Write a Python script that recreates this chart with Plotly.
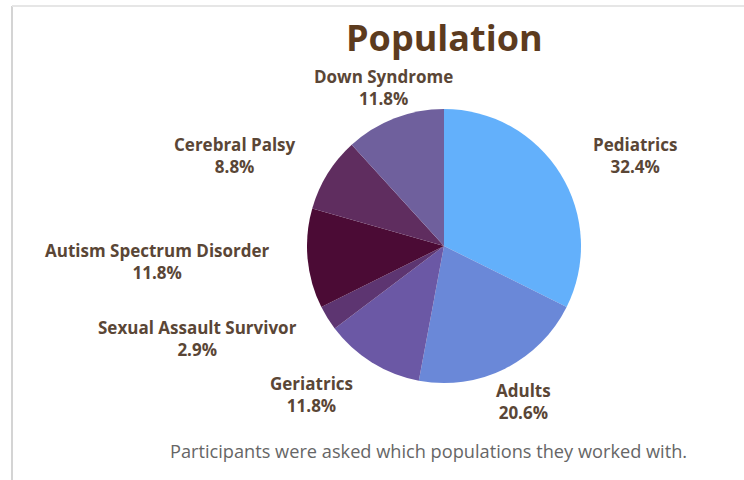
import plotly.graph_objects as go

# Data
categories = ["Pediatrics", "Adults", "Geriatrics", "Sexual Assault Survivor",
              "Autism Spectrum Disorder", "Cerebral Palsy", "Down Syndrome"]
counts = [11, 7, 4, 1, 4, 3, 4]
colors = ["#63b0fb", "#6a88d8", "#6b58a5", "#5d3571", "#4b0b35", "#5f2d5f", "#6f609d"]

title_text = "Population"
caption_text = "Participants were asked which populations they worked with."

# Layout (pixel positions of label block centres)
W, H = 744, 480
label_px = [(635, 155), (523, 401), (311, 394), (197, 338), (157, 261), (235, 155), (383, 87)]

total = sum(counts)
fig = go.Figure(go.Pie(
    labels=categories, values=counts, sort=False, direction="clockwise", rotation=0,
    marker=dict(colors=colors, line=dict(width=0)),
    textinfo="none", hoverinfo="label+percent",
    domain=dict(x=[307 / W, 581 / W], y=[1 - 383 / H, 1 - 109 / H]),
    showlegend=False,
))

annotations = []
for cat, c, (px, py) in zip(categories, counts, label_px):
    annotations.append(dict(
        x=px / W, y=1 - py / H, xref="paper", yref="paper",
        text=f"<b>{cat}</b><br><b>{100 * c / total:.1f}%</b>", showarrow=False,
        font=dict(family="Open Sans", size=17, color="#5a4636"),
        xanchor="center", yanchor="middle", align="center",
    ))
annotations.append(dict(
    x=444 / W, y=1 - 38 / H, xref="paper", yref="paper", text=f"<b>{title_text}</b>",
    showarrow=False, font=dict(family="Open Sans", size=36, color="#5c3b1e"),
    xanchor="center", yanchor="middle"))
annotations.append(dict(
    x=428 / W, y=1 - 451 / H, xref="paper", yref="paper", text=caption_text,
    showarrow=False, font=dict(family="Open Sans", size=18.2, color="#666666"),
    xanchor="center", yanchor="middle"))

fig.update_layout(
    width=W, height=H, margin=dict(l=0, r=0, t=0, b=0),
    paper_bgcolor="white", plot_bgcolor="white",
    annotations=annotations,
    shapes=[
        dict(type="line", xref="paper", yref="paper", x0=12 / W, x1=12 / W, y0=0, y1=1 - 6 / H,
             line=dict(color="#d4d4d4", width=2)),
        dict(type="line", xref="paper", yref="paper", x0=12 / W, x1=1, y0=1 - 6 / H, y1=1 - 6 / H,
             line=dict(color="#e6e6e6", width=2)),
    ],
)

fig.write_html("out.html")
